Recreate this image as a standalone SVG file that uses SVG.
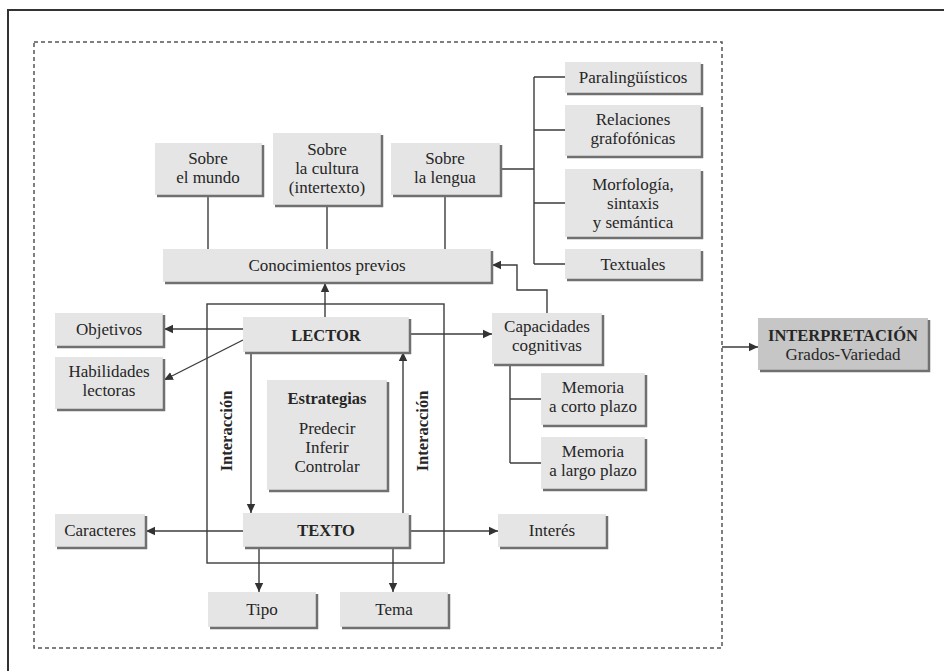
<svg xmlns="http://www.w3.org/2000/svg" width="944" height="671" viewBox="0 0 944 671">
<defs>
<marker id="ah" markerWidth="10" markerHeight="10" refX="9" refY="5" orient="auto" markerUnits="userSpaceOnUse">
<path d="M0,0.8 L9,5 L0,9.2 Z" fill="#333"/>
</marker>
<style>
.bx{fill:#e5e5e5;}
.sh{fill:none;stroke:#707070;stroke-width:2.5;}
.dk{fill:#c6c6c6;}
text{font-family:"Liberation Serif","Times New Roman",serif;font-size:17px;fill:#262626;text-anchor:middle;}
text.b{font-weight:bold;font-size:16.5px;}
.ln{fill:none;stroke:#3c3c3c;stroke-width:1.4;}
.ar{fill:none;stroke:#3c3c3c;stroke-width:1.4;marker-end:url(#ah);}
</style>
</defs>
<rect width="944" height="671" fill="#ffffff"/>
<g id="frame">
<path d="M8,671 L8,10 L944,10" fill="none" stroke="#333" stroke-width="2"/>
<rect x="34" y="42" width="688" height="606" fill="none" stroke="#555" stroke-width="1.5" stroke-dasharray="4 3"/>
</g>
<g id="connectors">
<path class="ln" d="M208,195 V249 M327,205 V249 M445,195 V249"/>
<path class="ln" d="M500,169 H534 M534,77 V264 M534,77 H565 M534,130 H565 M534,203 H565 M534,264 H565"/>
<path class="ar" d="M547,313 V290 H517 V265 H492"/>
<path class="ar" d="M325,317 V283"/>
<path class="ar" d="M243,329 H164"/>
<path class="ar" d="M243,340 L164,380"/>
<path class="ar" d="M409,334 H492"/>
<path class="ln" d="M510,364 V463 M510,399 H541 M510,463 H541"/>
<rect class="ln" x="207" y="304" width="237" height="259"/>
<path class="ar" d="M251,352 V513"/>
<path class="ar" d="M403,513 V352"/>
<path class="ar" d="M243,531 H146"/>
<path class="ar" d="M409,531 H498"/>
<path class="ar" d="M259,547 V592"/>
<path class="ar" d="M393,547 V592"/>
<path class="ar" d="M722,347 H758"/>
<text class="b" transform="translate(232,431) rotate(-90)">Interacción</text>
<text class="b" transform="translate(428,431) rotate(-90)">Interacción</text>
</g>
<g id="mundo"><rect class="bx" x="155" y="143" width="107" height="52"/><path class="sh" d="M263,145 V196 H157"/><text x="208" y="164">Sobre</text><text x="208" y="183">el mundo</text></g>
<g id="cultura"><rect class="bx" x="273" y="133" width="108" height="72"/><path class="sh" d="M382,135 V206 H275"/><text x="327" y="155">Sobre</text><text x="327" y="174">la cultura</text><text x="327" y="193">(intertexto)</text></g>
<g id="lengua"><rect class="bx" x="391" y="143" width="109" height="52"/><path class="sh" d="M501,145 V196 H393"/><text x="445" y="164">Sobre</text><text x="445" y="183">la lengua</text></g>
<g id="conocimientos"><rect class="bx" x="163" y="249" width="328" height="33"/><path class="sh" d="M492,251 V283 H165"/><text x="327" y="271">Conocimientos previos</text></g>
<g id="paraling"><rect class="bx" x="565" y="62" width="136" height="31"/><path class="sh" d="M702,64 V94 H567"/><text x="633" y="83">Paralingüísticos</text></g>
<g id="relaciones"><rect class="bx" x="565" y="105" width="136" height="51"/><path class="sh" d="M702,107 V157 H567"/><text x="633" y="125">Relaciones</text><text x="633" y="144">grafofónicas</text></g>
<g id="morfologia"><rect class="bx" x="565" y="169" width="136" height="68"/><path class="sh" d="M702,171 V238 H567"/><text x="633" y="190">Morfología,</text><text x="633" y="209">sintaxis</text><text x="633" y="228">y semántica</text></g>
<g id="textuales"><rect class="bx" x="565" y="249" width="136" height="30"/><path class="sh" d="M702,251 V280 H567"/><text x="633" y="270">Textuales</text></g>
<g id="objetivos"><rect class="bx" x="55" y="313" width="108" height="33"/><path class="sh" d="M164,315 V347 H57"/><text x="109" y="335">Objetivos</text></g>
<g id="habilidades"><rect class="bx" x="55" y="357" width="108" height="52"/><path class="sh" d="M164,359 V410 H57"/><text x="109" y="377">Habilidades</text><text x="109" y="396">lectoras</text></g>
<g id="lector"><rect class="bx" x="243" y="317" width="166" height="35"/><path class="sh" d="M410,319 V353 H245"/><text class="b" x="326" y="341">LECTOR</text></g>
<g id="capacidades"><rect class="bx" x="492" y="313" width="110" height="51"/><path class="sh" d="M603,315 V365 H494"/><text x="547" y="332">Capacidades</text><text x="547" y="351">cognitivas</text></g>
<g id="corto"><rect class="bx" x="541" y="373" width="104" height="52"/><path class="sh" d="M646,375 V426 H543"/><text x="593" y="393">Memoria</text><text x="593" y="412">a corto plazo</text></g>
<g id="largo"><rect class="bx" x="541" y="437" width="104" height="52"/><path class="sh" d="M646,439 V490 H543"/><text x="593" y="457">Memoria</text><text x="593" y="476">a largo plazo</text></g>
<g id="estrategias"><rect class="bx" x="267" y="380" width="120" height="110"/><path class="sh" d="M388,382 V491 H269"/><text class="b" x="327" y="404">Estrategias</text><text x="327" y="434">Predecir</text><text x="327" y="453">Inferir</text><text x="327" y="472">Controlar</text></g>
<g id="texto"><rect class="bx" x="243" y="513" width="166" height="34"/><path class="sh" d="M410,515 V548 H245"/><text class="b" x="326" y="536">TEXTO</text></g>
<g id="caracteres"><rect class="bx" x="55" y="514" width="90" height="33"/><path class="sh" d="M146,516 V548 H57"/><text x="100" y="536">Caracteres</text></g>
<g id="interes"><rect class="bx" x="498" y="514" width="108" height="33"/><path class="sh" d="M607,516 V548 H500"/><text x="552" y="536">Interés</text></g>
<g id="tipo"><rect class="bx" x="208" y="592" width="108" height="35"/><path class="sh" d="M317,594 V628 H210"/><text x="262" y="615">Tipo</text></g>
<g id="tema"><rect class="bx" x="340" y="592" width="108" height="35"/><path class="sh" d="M449,594 V628 H342"/><text x="394" y="615">Tema</text></g>
<g id="interpretacion"><rect class="dk" x="758" y="318" width="170" height="52"/><path class="sh" d="M929,320 V371 H760"/><text class="b" x="843" y="341">INTERPRETACIÓN</text><text x="843" y="360">Grados-Variedad</text></g>
</svg>
